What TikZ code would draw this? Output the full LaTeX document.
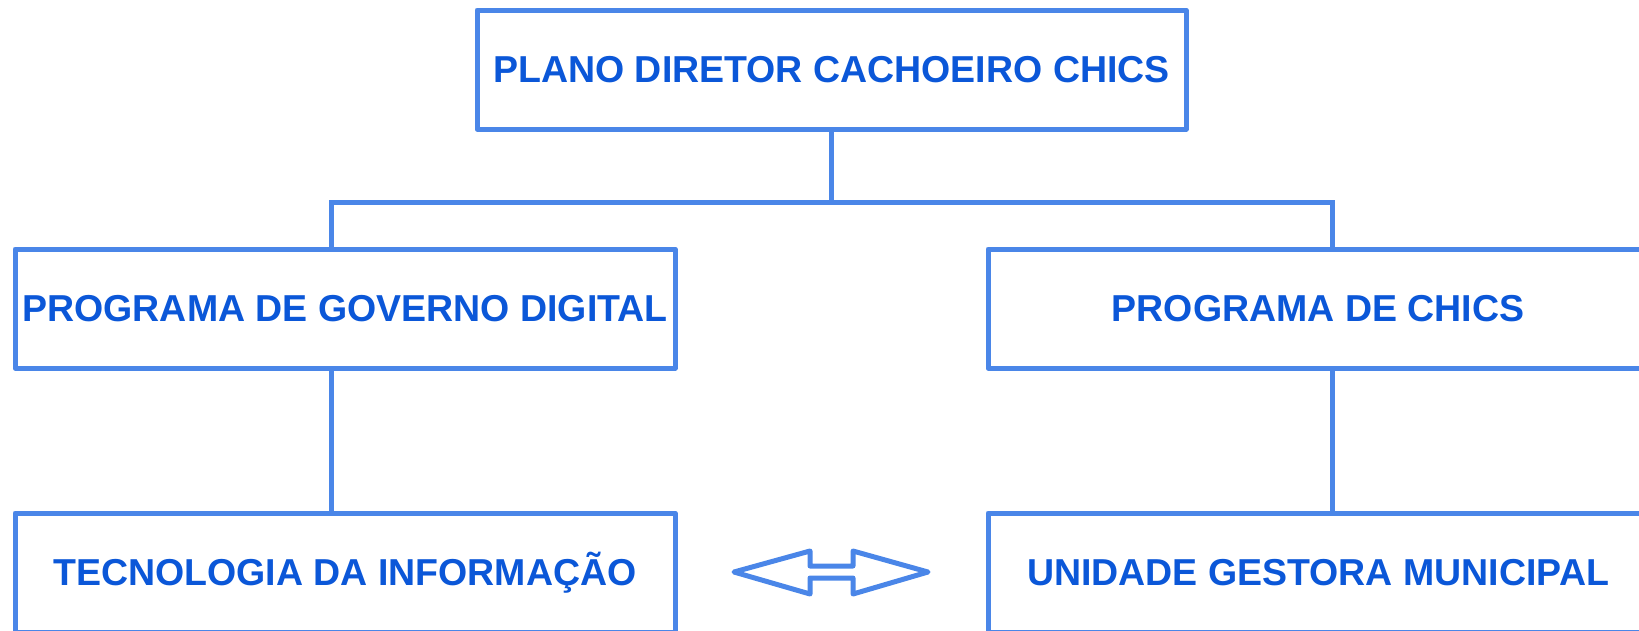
\documentclass[tikz,border=0pt]{standalone}
\usepackage{fontspec}
\setmainfont{Liberation Sans}
\definecolor{lineblue}{HTML}{4A86E8}
\definecolor{textblue}{HTML}{0B57D8}
\begin{document}
\begin{tikzpicture}[x=1pt,y=-1pt,
  box/.style={draw=lineblue, line width=5pt, line join=round, rectangle, inner sep=0pt, outer sep=0pt,
    text=textblue, font=\fontsize{37.5}{40}\selectfont\bfseries},
  conn/.style={draw=lineblue, line width=5pt}]
\useasboundingbox (0,0) rectangle (1639,630);
\node[box, minimum width=709pt, minimum height=119pt] (top) at (831.5,69.5) {PLANO DIRETOR CACHOEIRO CHICS};
\node[box, minimum width=660pt, minimum height=119pt] (left) at (345,308.5) {PROGRAMA DE GOVERNO DIGITAL};
\node[box, minimum width=660pt, minimum height=119pt] (right) at (1318,308.5) {PROGRAMA DE CHICS};
\node[box, minimum width=660pt, minimum height=119pt] (tl) at (345,572.5) {TECNOLOGIA DA INFORMAÇÃO};
\node[box, minimum width=660pt, minimum height=119pt] (ug) at (1318,572.5) {UNIDADE GESTORA MUNICIPAL};
\coordinate (bm) at (831.5,202);
\coordinate (bl) at (331,202);
\coordinate (br) at (1332,202);
\draw[conn] (top.south) -- (bm);
\draw[conn] (bl |- left.north) -- (bl) -- (br) -- (br |- right.north);
\draw[conn] (bl |- left.south) -- (bl |- tl.north);
\draw[conn] (br |- right.south) -- (br |- ug.north);
\draw[draw=lineblue, line width=5pt, line join=round]
  (734,572) -- (810,551) -- (810,566) -- (853,566) -- (853,551) -- (928,572)
  -- (853,594) -- (853,578) -- (810,578) -- (810,594) -- cycle;
\end{tikzpicture}
\end{document}
